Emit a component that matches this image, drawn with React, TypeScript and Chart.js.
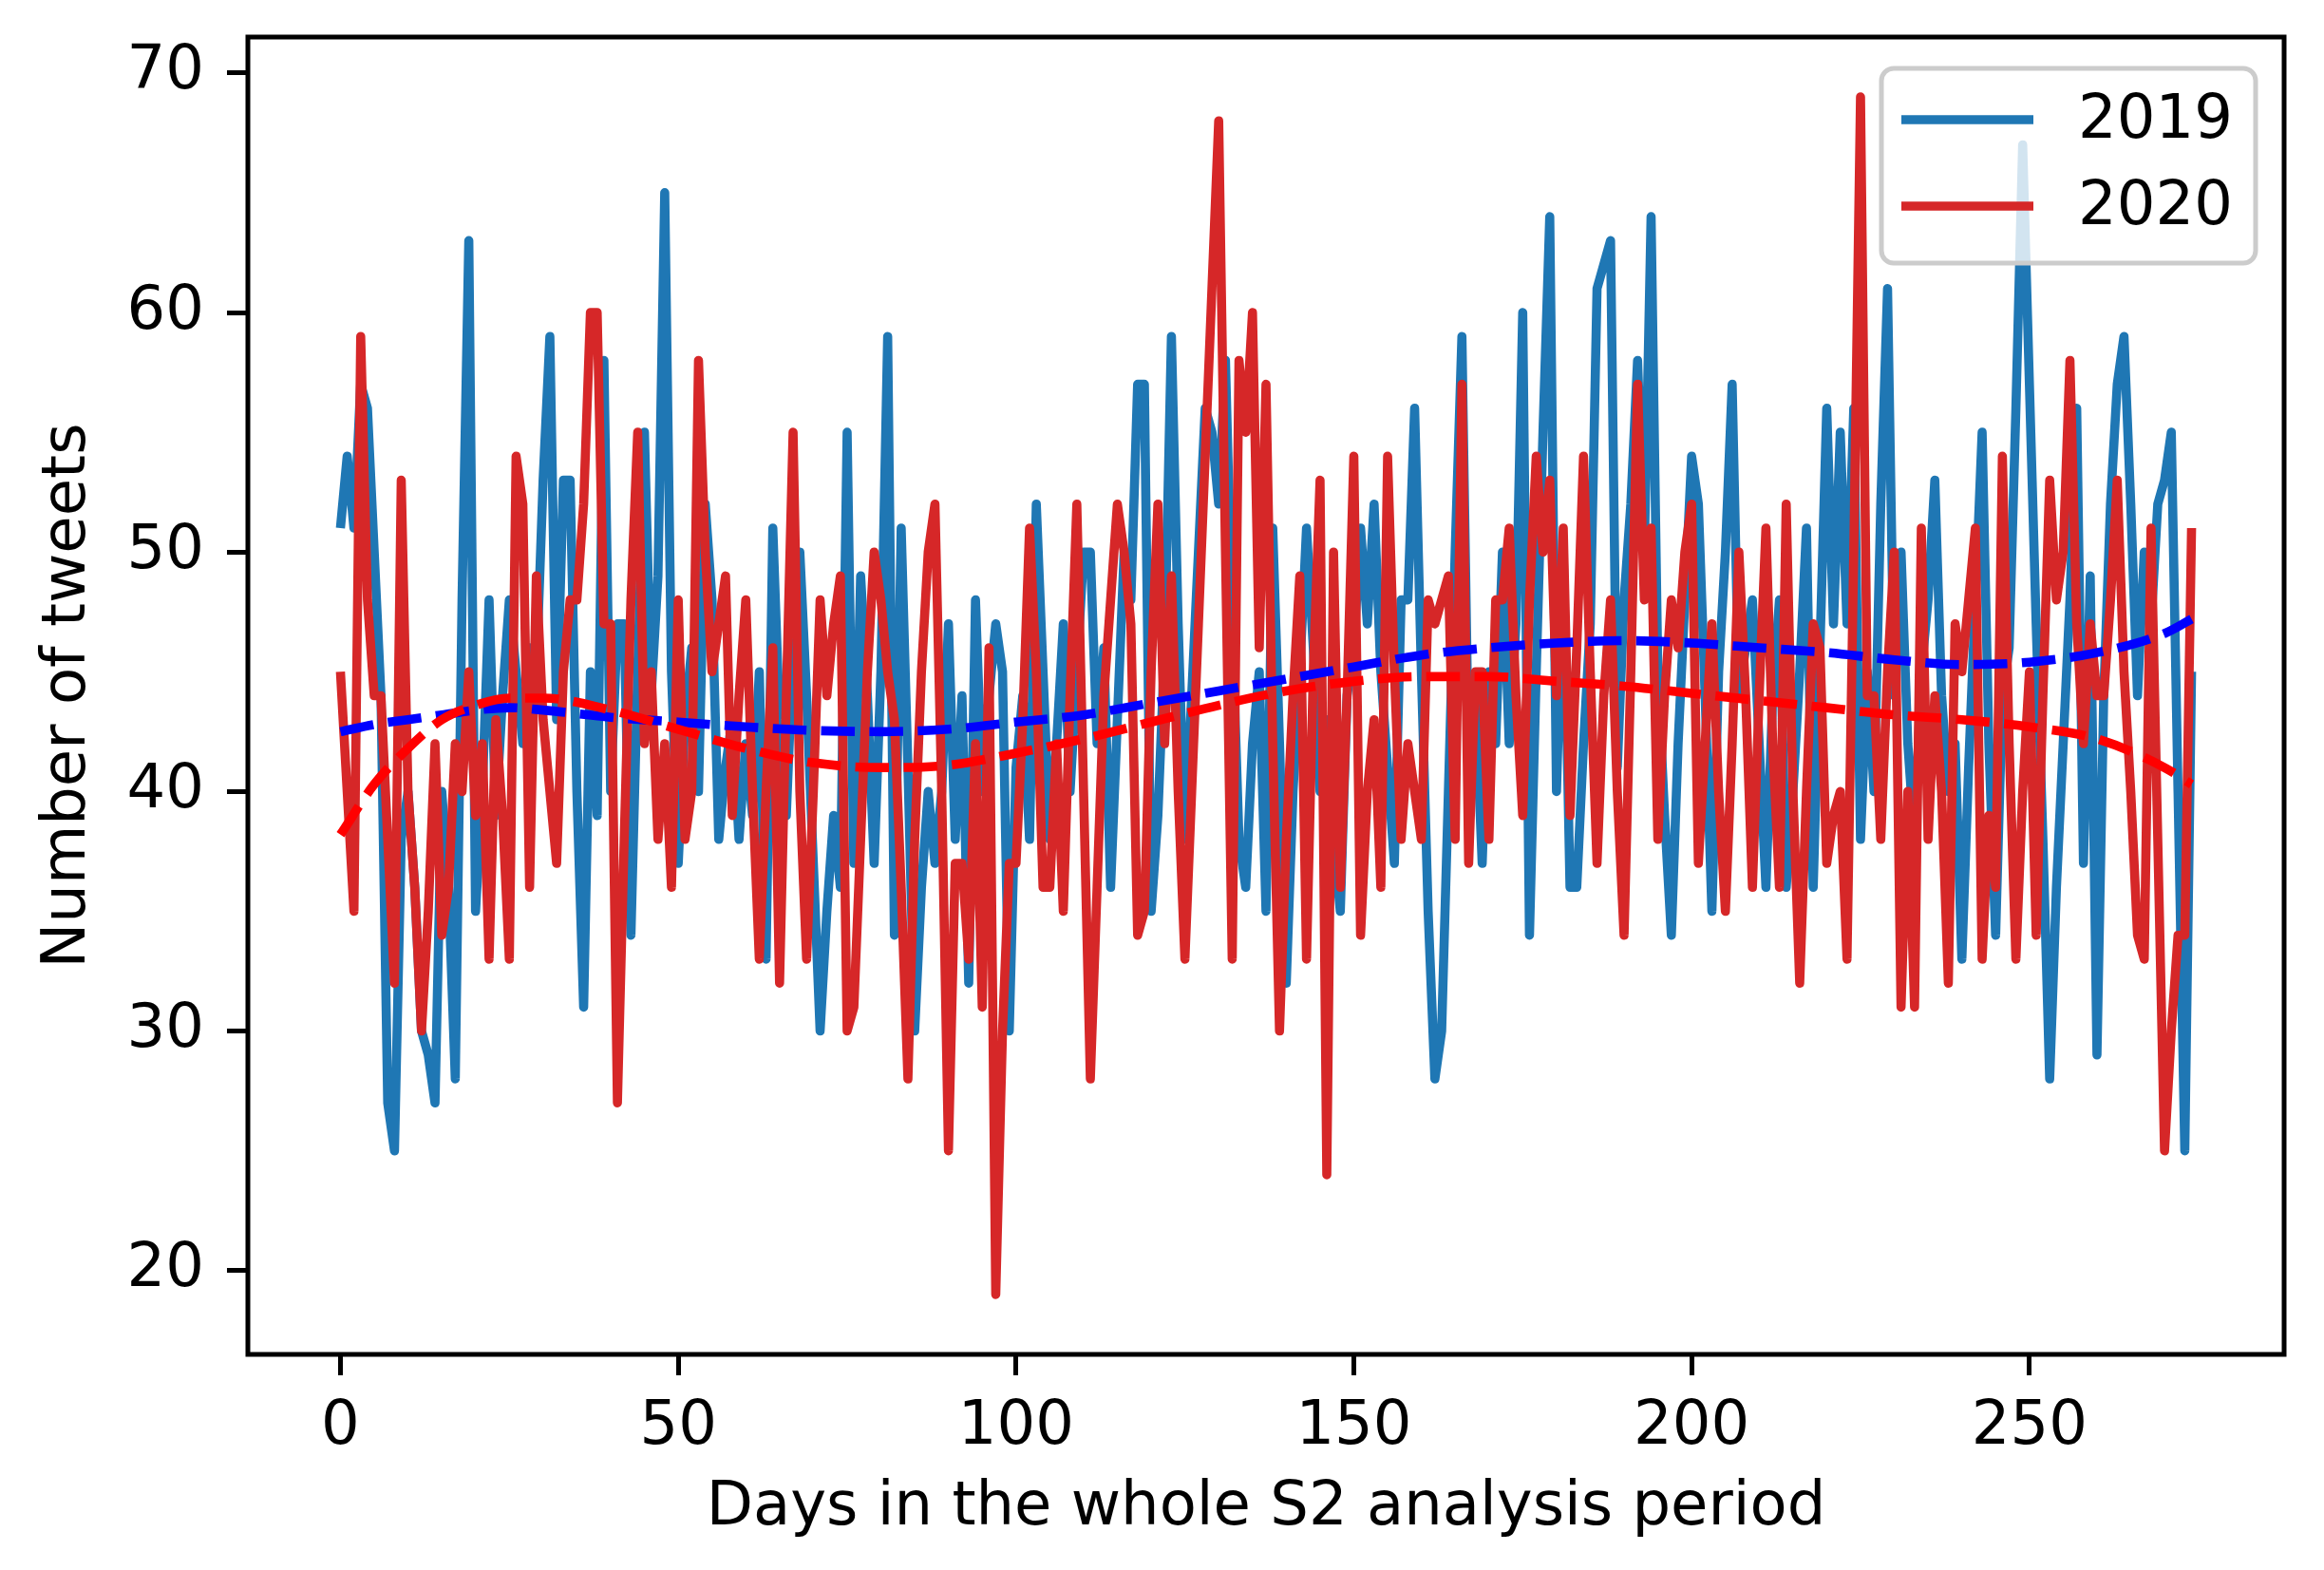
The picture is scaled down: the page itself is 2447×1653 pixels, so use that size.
import { useEffect, useRef } from "react"
import { Chart, registerables } from "chart.js"

Chart.register(...registerables)

// daily tweet counts, day 0 .. 274
const tweets2019 = [
  51, 54, 51, 57, 56, 50, 44, 27, 25, 38,
  40, 36, 30, 29, 27, 40, 36, 28, 48, 63,
  35, 40, 48, 39, 44, 48, 45, 42, 46, 45,
  53, 59, 43, 53, 53, 40, 31, 45, 39, 58,
  40, 47, 47, 34, 45, 55, 44, 49, 65, 45,
  37, 43, 46, 40, 52, 48, 38, 41, 43, 38,
  42, 39, 45, 33, 51, 43, 39, 46, 50, 44,
  37, 30, 35, 39, 36, 55, 37, 49, 44, 37,
  45, 59, 34, 51, 41, 30, 36, 40, 37, 40,
  47, 38, 44, 32, 48, 40, 44, 47, 45, 30,
  41, 44, 38, 52, 45, 38, 42, 47, 40, 45,
  50, 50, 42, 46, 36, 43, 50, 48, 57, 57,
  35, 39, 46, 59, 47, 38, 44, 50, 56, 55,
  52, 58, 47, 38, 36, 42, 45, 35, 51, 42,
  32, 40, 45, 51, 46, 40, 43, 38, 35, 44,
  46, 51, 47, 52, 45, 41, 37, 48, 48, 56,
  45, 35, 28, 30, 40, 50, 59, 41, 44, 37,
  45, 42, 50, 42, 47, 60, 34, 45, 55, 64,
  40, 50, 36, 36, 42, 47, 61, 62, 63, 41,
  48, 52, 58, 50, 64, 45, 39, 34, 42, 48,
  54, 52, 44, 35, 45, 50, 57, 44, 46, 48,
  42, 36, 44, 48, 36, 40, 45, 51, 36, 46,
  56, 47, 55, 47, 56, 38, 45, 40, 52, 61,
  44, 50, 42, 38, 45, 48, 53, 44, 40, 42,
  33, 41, 48, 55, 42, 34, 44, 46, 56, 67,
  57, 47, 38, 28, 36, 42, 48, 56, 37, 49,
  29, 44, 52, 57, 59, 52, 44, 50, 47, 52,
  53, 55, 40, 25, 45,
]

const tweets2020 = [
  45, 40, 35, 59, 48, 44, 44, 38, 32, 53,
  40, 36, 30, 35, 42, 34, 36, 42, 40, 45,
  39, 42, 33, 43, 39, 33, 54, 52, 36, 49,
  43, 40, 37, 45, 48, 48, 52, 60, 60, 47,
  47, 27, 38, 48, 55, 42, 45, 38, 42, 36,
  48, 38, 40, 58, 50, 45, 47, 49, 39, 44,
  48, 40, 33, 40, 46, 32, 44, 55, 40, 33,
  40, 48, 44, 47, 49, 30, 31, 38, 45, 50,
  48, 45, 43, 36, 28, 38, 45, 50, 52, 40,
  25, 37, 37, 33, 42, 31, 46, 19, 30, 37,
  37, 43, 51, 45, 36, 36, 42, 35, 44, 52,
  40, 28, 36, 44, 48, 52, 50, 47, 34, 35,
  45, 52, 42, 49, 40, 33, 40, 47, 54, 61,
  68, 50, 33, 58, 55, 60, 46, 57, 42, 30,
  38, 44, 49, 33, 45, 53, 24, 50, 36, 44,
  54, 34, 40, 43, 36, 54, 45, 38, 42, 40,
  38, 48, 47, 48, 49, 38, 57, 37, 45, 45,
  38, 48, 48, 51, 44, 39, 48, 54, 50, 53,
  44, 51, 39, 46, 54, 45, 37, 44, 48, 40,
  34, 45, 57, 48, 51, 38, 44, 48, 46, 50,
  52, 37, 42, 47, 40, 35, 42, 50, 44, 36,
  44, 51, 42, 36, 52, 40, 32, 40, 47, 46,
  37, 39, 40, 33, 50, 69, 44, 44, 38, 45,
  50, 31, 40, 31, 51, 38, 44, 40, 32, 47,
  45, 48, 51, 33, 39, 36, 54, 42, 33, 40,
  45, 34, 44, 53, 48, 50, 58, 47, 42, 47,
  44, 44, 48, 53, 45, 40, 34, 33, 51, 38,
  25, 30, 34, 34, 51,
]

// fitted trend curves, read at these days
const trendDays = [0, 5, 10, 15, 20, 25, 30, 40, 50, 60, 70, 80, 90, 100, 110, 120, 130, 140, 150, 160, 170, 180, 190, 200, 210, 220, 230, 240, 250, 260, 270, 274]
const trend2019 = [42.5, 42.8, 43.0, 43.2, 43.4, 43.5, 43.4, 43.1, 42.9, 42.7, 42.55, 42.5, 42.6, 42.9, 43.2, 43.7, 44.2, 44.7, 45.2, 45.7, 46.0, 46.2, 46.3, 46.2, 46.0, 45.8, 45.5, 45.3, 45.4, 45.8, 46.6, 47.2]
const trend2020 = [38.2, 40.3, 41.8, 43.0, 43.6, 43.9, 43.9, 43.4, 42.6, 41.8, 41.2, 41.0, 41.1, 41.6, 42.2, 42.9, 43.6, 44.2, 44.6, 44.8, 44.8, 44.6, 44.4, 44.1, 43.8, 43.5, 43.2, 43.0, 42.7, 42.2, 41.0, 40.3]

const xTicks = [0, 50, 100, 150, 200, 250]
const yTicks = [20, 30, 40, 50, 60, 70]
const seriesLabels = ["2019", "2020"]
const seriesColors = ["#1f77b4", "#d62728"]

const FONT = "DejaVu Sans"
const LINE_W = 9.6
const DASH = [35.5, 15.4]

// matplotlib-like axes frame
const framePlugin = {
  id: "frame",
  afterDatasetsDraw(chart: any) {
    const { ctx, chartArea } = chart
    ctx.save()
    ctx.strokeStyle = "#000"
    ctx.lineWidth = 5
    ctx.strokeRect(chartArea.left, chartArea.top, chartArea.right - chartArea.left, chartArea.bottom - chartArea.top)
    ctx.restore()
  },
}

// legend box in the upper right corner
const legendPlugin = {
  id: "boxLegend",
  afterDraw(chart: any) {
    const { ctx } = chart
    const x0 = 1981, y0 = 72, w = 394, h = 205, r = 13
    ctx.save()
    ctx.beginPath()
    ctx.roundRect(x0, y0, w, h, r)
    ctx.fillStyle = "rgba(255,255,255,0.8)"
    ctx.fill()
    ctx.strokeStyle = "#cccccc"
    ctx.lineWidth = 5
    ctx.stroke()
    const rows = [126, 217]
    seriesLabels.forEach((label, i) => {
      ctx.beginPath()
      ctx.moveTo(2002, rows[i])
      ctx.lineTo(2141, rows[i])
      ctx.strokeStyle = seriesColors[i]
      ctx.lineWidth = LINE_W
      ctx.stroke()
      ctx.fillStyle = "#000"
      ctx.font = `64px "${FONT}"`
      ctx.textAlign = "left"
      ctx.textBaseline = "middle"
      ctx.fillText(label, 2188, rows[i] + 2)
    })
    ctx.restore()
  },
}

export default function App() {
  const chartRef = useRef<HTMLCanvasElement>(null)
  const chartInstance = useRef<Chart | null>(null)

  useEffect(() => {
    document.body.style.margin = "0"
    if (!chartRef.current) return

    if (chartInstance.current) {
      chartInstance.current.destroy()
    }

    const ctx = chartRef.current.getContext("2d")
    if (ctx) {
      chartInstance.current = new Chart(ctx, {
        type: "line",
        data: {
          datasets: [
            {
              label: seriesLabels[0],
              data: tweets2019.map((v, i) => ({ x: i, y: v })),
              borderColor: seriesColors[0],
              borderWidth: LINE_W,
              borderJoinStyle: "round",
              pointRadius: 0,
              tension: 0,
              order: 4,
            },
            {
              label: seriesLabels[1],
              data: tweets2020.map((v, i) => ({ x: i, y: v })),
              borderColor: seriesColors[1],
              borderWidth: LINE_W,
              borderJoinStyle: "round",
              pointRadius: 0,
              tension: 0,
              order: 3,
            },
            {
              label: "trend 2019",
              data: trend2019.map((v, i) => ({ x: trendDays[i], y: v })),
              borderColor: "#0000ff",
              borderWidth: LINE_W,
              borderDash: DASH,
              pointRadius: 0,
              cubicInterpolationMode: "monotone",
              order: 2,
            },
            {
              label: "trend 2020",
              data: trend2020.map((v, i) => ({ x: trendDays[i], y: v })),
              borderColor: "#ff0000",
              borderWidth: LINE_W,
              borderDash: DASH,
              pointRadius: 0,
              cubicInterpolationMode: "monotone",
              order: 1,
            },
          ],
        },
        options: {
          animation: false,
          responsive: true,
          maintainAspectRatio: false,
          devicePixelRatio: 1,
          layout: { padding: { top: 39, right: 42, left: 0, bottom: 0 } },
          plugins: {
            legend: { display: false },
            tooltip: { enabled: false },
          },
          scales: {
            x: {
              type: "linear",
              min: -13.7,
              max: 287.7,
              afterBuildTicks: (s: any) => {
                s.ticks = xTicks.map((v) => ({ value: v }))
              },
              afterFit: (s: any) => {
                s.height = 227
                s.paddingLeft = 0
                s.paddingRight = 0
              },
              border: { display: false },
              grid: { drawOnChartArea: false, drawTicks: true, tickLength: 22, tickWidth: 5, tickColor: "#000" },
              ticks: { color: "#000", font: { family: FONT, size: 64 }, padding: 17, maxRotation: 0, autoSkip: false },
              title: {
                display: true,
                text: "Days in the whole S2 analysis period",
                color: "#000",
                font: { family: FONT, size: 64 },
                padding: { top: 0, bottom: 26 },
              },
            },
            y: {
              type: "linear",
              min: 16.5,
              max: 71.5,
              afterBuildTicks: (s: any) => {
                s.ticks = yTicks.map((v) => ({ value: v }))
              },
              afterFit: (s: any) => {
                s.width = 261
                s.paddingTop = 0
                s.paddingBottom = 0
              },
              border: { display: false },
              grid: { drawOnChartArea: false, drawTicks: true, tickLength: 22, tickWidth: 5, tickColor: "#000" },
              ticks: { color: "#000", font: { family: FONT, size: 64 }, padding: 24, autoSkip: false },
              title: {
                display: true,
                text: "Number of tweets",
                color: "#000",
                font: { family: FONT, size: 64 },
                padding: { top: 34, bottom: 0 },
              },
            },
          },
        },
        plugins: [framePlugin, legendPlugin],
      })
    }

    return () => {
      if (chartInstance.current) {
        chartInstance.current.destroy()
        chartInstance.current = null
      }
    }
  }, [])

  return (
    <div style={{ position: "relative", width: 2447, height: 1653, background: "#fff" }}>
      <canvas ref={chartRef} />
    </div>
  )
}
